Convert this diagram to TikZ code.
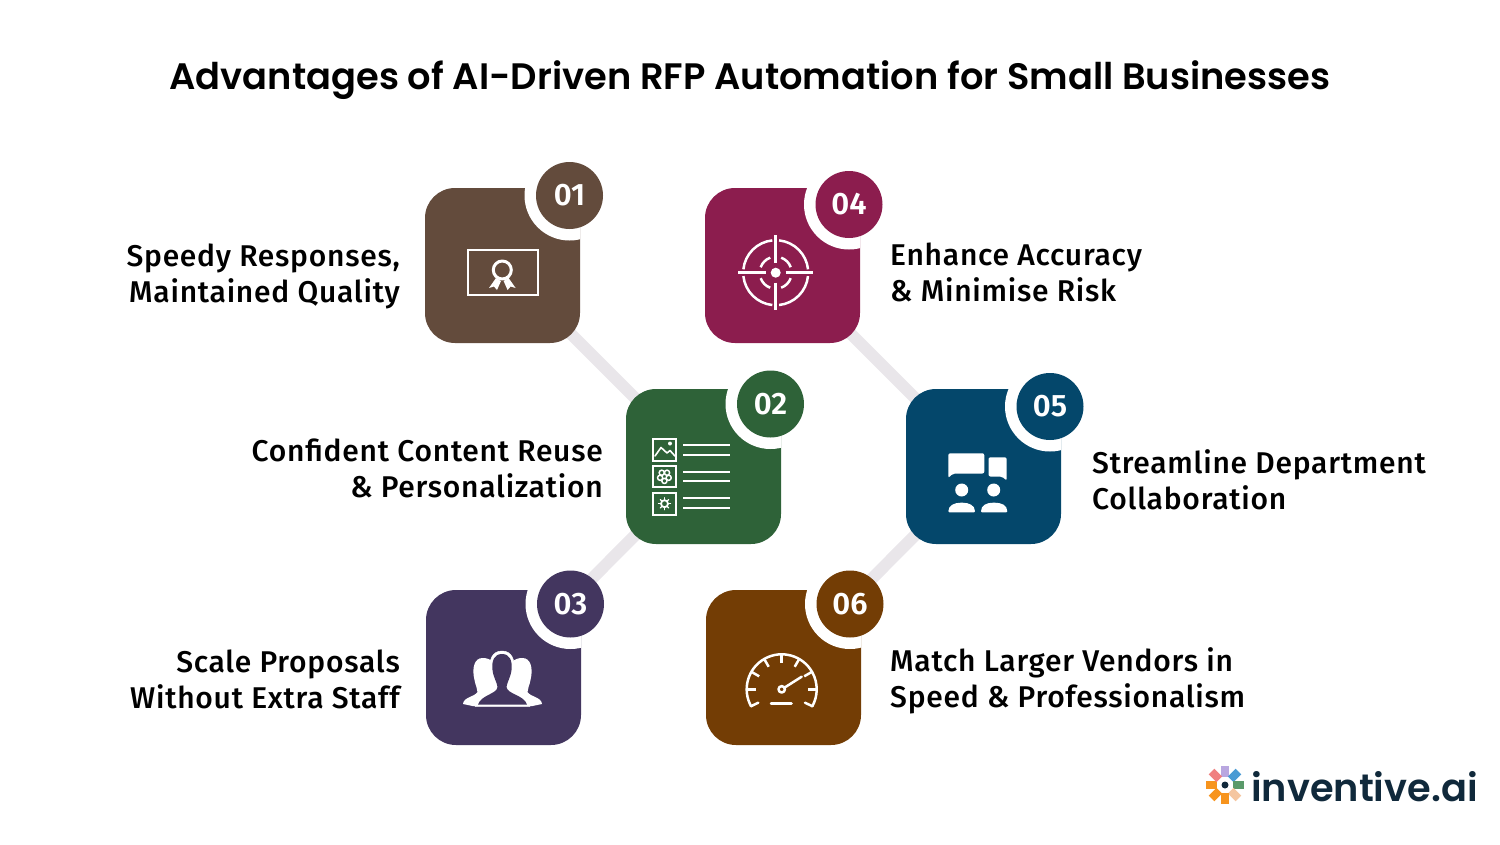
\documentclass[tikz,border=0pt]{standalone}
\usepackage{fontspec}
\setmainfont{Fira Sans}
\newfontfamily\titlefont{Poppins SemiBold}
\newfontfamily\bodyfont{Fira Sans Medium}[LetterSpace=2.5]
\newfontfamily\numfont{Fira Sans SemiBold}
\newfontfamily\logofont{Poppins SemiBold}
\usetikzlibrary{positioning,backgrounds}

\definecolor{tileA}{HTML}{634B3C}
\definecolor{tileB}{HTML}{2E6238}
\definecolor{tileC}{HTML}{43365F}
\definecolor{tileD}{HTML}{8C1D4E}
\definecolor{tileE}{HTML}{04476B}
\definecolor{tileF}{HTML}{733D05}
\definecolor{linkgrey}{HTML}{E9E6EA}
\definecolor{logonavy}{HTML}{10293B}

\begin{document}
\begin{tikzpicture}
			[
				x=1pt,y=-1pt,
				tile/.style n args={3}{fill=#1,minimum size=155pt,inner sep=0pt,rounded corners=30pt,
					path picture={\fill[white] ([shift={(#2,#3)}]path picture bounding box.center) circle (45pt);}},
				badge/.style={circle,fill=#1,minimum size=67pt,inner sep=0pt,text=white,font=\numfont\fontsize{31}{31}\selectfont},
				leftlabel/.style={anchor=east,align=right,inner sep=0pt,font=\bodyfont\fontsize{30}{36}\selectfont},
				rightlabel/.style={anchor=west,align=left,inner sep=0pt,font=\bodyfont\fontsize{30}{36}\selectfont},
				link/.style={line width=12pt,linkgrey},
				icon/.style={line width=#1,white,line cap=round,line join=round},
				icon/.default=2.5pt
			]
			\useasboundingbox (0,0) rectangle (1500,844);

			% title
			\node (title) at (750,80) {\titlefont\fontsize{36.8}{36.8}\selectfont Advantages of AI-Driven RFP Automation for Small Businesses};

			% tiles
			\node[tile={tileA}{67}{-70}] (box1) at (502.5,265.5) {};
			\node[tile={tileB}{67}{-62.5}] (box2) at (703.5,466.5) {};
			\node[tile={tileC}{67}{-63.5}] (box3) at (503.5,667.5) {};
			\node[tile={tileD}{66.5}{-61}] (box4) at (782.5,265.5) {};
			\node[tile={tileE}{66.5}{-60}] (box5) at (983.5,466.5) {};
			\node[tile={tileF}{66.5}{-63.5}] (box6) at (783.5,667.5) {};

			% badges
			\node[badge=tileA] (num1) at (569.5,195.5) {01};
			\node[badge=tileB] (num2) at (770.5,404) {02};
			\node[badge=tileC] (num3) at (570.5,604) {03};
			\node[badge=tileD] (num4) at (849,204.5) {04};
			\node[badge=tileE] (num5) at (1050,406.5) {05};
			\node[badge=tileF] (num6) at (850,604) {06};

			% labels
			\node[leftlabel] (text1) at (400,276) {Speedy Responses,\\Maintained Quality};
			\node[leftlabel] (text2) at (603,468.5) {Confident Content Reuse\\\& Personalization};
			\node[leftlabel] (text3) at (400,679) {Scale Proposals\\Without Extra Staff};
			\node[rightlabel] (text4) at (890,272.5) {Enhance Accuracy\\\& Minimise Risk};
			\node[rightlabel] (text5) at (1092,480) {Streamline Department\\Collaboration};
			\node[rightlabel] (text6) at (890,681) {Match Larger Vendors in\\Speed \& Professionalism};

			% links
			\begin{scope}[on background layer]
				\foreach \from/\to in {box1/box2,box2/box3,box4/box5,box5/box6}
				\draw[link] (\from.center) -- (\to.center);
			\end{scope}

			% icon 1: certificate
			\draw[icon=2pt,line cap=butt,line join=miter] (467.5,250) rectangle (537.5,295);
			\draw[icon=3pt] (502.3,270) circle (9pt);
			\fill[white] (496,278) -- (489,288) -- (494,286.5) -- (497,290) -- (501,281) -- cycle;
			\fill[white] (508.6,278) -- (515.6,288) -- (510.6,286.5) -- (507.6,290) -- (503.6,281) -- cycle;

			% icon 2: document list
			\foreach \ya/\yb in {438.7/461.3,466/486.7,492.7/515}
			\draw[icon=2pt,line cap=butt,line join=miter] (653,\ya) rectangle (675.7,\yb);
			\draw[icon=1.6pt] (655,456) -- (661,447.5) -- (667,453) -- (670,450.5) -- (675,456);
			\fill[white] (670,443.5) circle (2pt);
			\foreach \ang in {18,90,162,234,306}
			\draw[icon=1.5pt] (664.4,476.4) ++(\ang:4.5) circle (2.6pt);
			\draw[icon=1.8pt] (664.5,503.7) circle (3.5pt);
			\foreach \ang in {0,45,...,315}
			\draw[icon=1.2pt] (664.5,503.7) ++(\ang:3.5) -- ++(\ang:2.5);
			\foreach \yy in {445.3,454.7,472,481.3,498.3,507.7}
			\draw[icon=2.2pt,line cap=butt] (683.3,\yy) -- (730,\yy);

			% icon 3: people
			\foreach \sgn in {-1,1}
			\fill[white,xshift=502.5pt,xscale=\sgn] (-10,662) .. controls (-12,659) and (-16,658) .. (-20,658)
				.. controls (-28,658) and (-31,668) .. (-28,680) .. controls (-27,686) and (-25,688) .. (-25,692)
				.. controls (-28,697) and (-39,697) .. (-39.5,704) -- (-30,706) -- (0,706) -- cycle;
			\fill[white,draw=white] (502,651) .. controls (512,651) and (515,660) .. (514,670) .. controls (513,678) and (510,682) .. (509,686)
				.. controls (509,692) and (526,693) .. (530,706.5) -- (475,706.5) .. controls (478,693) and (495,692) .. (495,686)
				.. controls (494,682) and (490,678) .. (490,670) .. controls (489,660) and (492,651) .. (502,651) -- cycle;
			\fill[tileC] (502,654) .. controls (510,654) and (512.5,661) .. (511.5,670) .. controls (510.5,678) and (507,682) .. (506.5,687)
				.. controls (507,694) and (524,695) .. (527,704.5) -- (478,704.5) .. controls (481,695) and (497,694) .. (497.5,687)
				.. controls (497,682) and (493.5,678) .. (492.5,670) .. controls (491.5,661) and (494,654) .. (502,654) -- cycle;

			% icon 4: target
			\foreach \ang in {0,90,180,270}{
				\draw[icon=2.5pt,line cap=butt] (775.7,272.7) ++(\ang+6:32.5) arc[start angle=\ang+6,end angle=\ang+84,radius=32.5];
				\draw[icon=2.5pt,line cap=butt] (775.7,272.7) ++(\ang+20:16) arc[start angle=\ang+20,end angle=\ang+70,radius=16];
				\draw[icon=2.5pt,line cap=butt] (775.7,272.7) ++(\ang:10) -- ++(\ang:27.5);
			}
			\fill[white] (775.7,272.7) circle (5pt);

			% icon 5: chat and team
			\fill[white,rounded corners=2pt] (948.3,453.3) -- (984.3,453.3) -- (984.3,473.5) -- (953,473.5) -- (948.3,478) -- cycle;
			\fill[white,rounded corners=2pt] (988.5,457.3) -- (1006.7,457.3) -- (1006.7,480.7) -- (1002,476.5) -- (988.5,476.5) -- cycle;
			\fill[white] (961.7,490) circle (6.5pt);
			\fill[white] (993.7,490) circle (6.5pt);
			\fill[white,rounded corners=1pt] (948.3,512.3) .. controls (948.3,505) and (955,502.7) .. (961.7,502.7) .. controls (968.5,502.7) and (975,505) .. (975,512.3) -- cycle;
			\fill[white,rounded corners=1pt] (981,512.3) .. controls (981,505) and (987,502.7) .. (994,502.7) .. controls (1001,502.7) and (1007.3,505) .. (1007.3,512.3) -- cycle;

			% icon 6: gauge
			\draw[icon=2.5pt] (781.7,689.3) ++(151:35) arc[start angle=151,end angle=389,radius=35];
			\foreach \ang in {180,210,...,360}
			\draw[icon=2.5pt,line cap=butt] (781.7,689.3) ++(\ang:35) -- ++(\ang:-9);
			\draw[icon=2.5pt] (751,706.2) -- (758.3,702.7);
			\draw[icon=2.5pt] (812.4,706.2) -- (805,702.7);
			\draw[icon=2.5pt] (771,703.3) -- (791.5,703.3);
			\draw[icon=2.5pt] (781.7,689.3) circle (3.2pt);
			\draw[icon=2.5pt] (784.5,687.6) -- (801.7,676.7);

			% logo
			\foreach \ang/\col in {90/B9A7E0,45/4A9BD4,0/5A9A6A,315/F5C6A0,270/F7941E,225/F7941E,180/F7941E,135/F08080}{
				\definecolor{petal}{HTML}{\col}
				\fill[petal,rotate around={\ang:(1225,785)}] (1225,785) ++(8,-4) rectangle ++(11,8);
			}
			\fill[logonavy] (1225,785) circle (3.5pt);
			\node[anchor=west,inner sep=0pt,text=logonavy] (logo) at (1251,787) {\logofont\fontsize{38.3}{38.3}\selectfont inventive.ai};

		\end{tikzpicture}
\end{document}
